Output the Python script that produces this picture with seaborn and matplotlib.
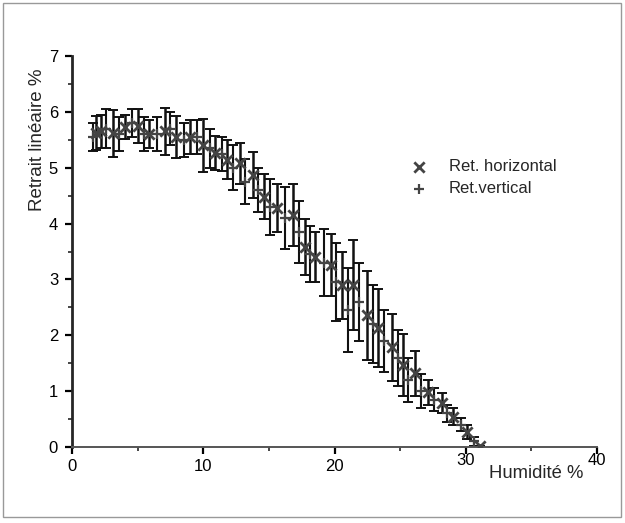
import matplotlib
matplotlib.use('Agg')
import matplotlib.pyplot as plt
import matplotlib.transforms as mtransforms
from matplotlib.patches import Rectangle
from matplotlib.ticker import MultipleLocator
import seaborn as sns
import pandas as pd

# --- Data ---
hum_h = [1.8, 2.2, 3.1, 4.0, 5.0, 5.9, 7.1, 7.9, 9.0, 10.0, 10.9, 11.8, 12.8, 13.8,
         14.6, 15.6, 16.8, 17.75, 18.5, 19.7, 20.6, 21.4, 22.5, 23.3, 24.4, 25.2,
         26.1, 27.1, 28.2, 29.0, 30.1, 31.1]
ret_h = [5.62, 5.65, 5.62, 5.73, 5.75, 5.6, 5.65, 5.55, 5.55, 5.4, 5.26, 5.14, 5.08,
         4.87, 4.48, 4.28, 4.15, 3.58, 3.4, 3.26, 2.9, 2.9, 2.36, 2.13, 1.79, 1.47,
         1.32, 0.98, 0.79, 0.54, 0.27, 0.02]
err_h = [0.3, 0.3, 0.42, 0.22, 0.3, 0.25, 0.42, 0.37, 0.3, 0.47, 0.3, 0.35, 0.37,
         0.42, 0.4, 0.43, 0.56, 0.5, 0.45, 0.55, 0.6, 0.8, 0.8, 0.7, 0.6, 0.55, 0.4,
         0.22, 0.18, 0.15, 0.12, 0.0]

hum_v = [1.6, 2.6, 3.6, 4.6, 5.5, 6.5, 7.5, 8.5, 9.5, 10.5, 11.4, 12.3, 13.2, 14.2,
         15.1, 16.2, 17.3, 18.1, 19.2, 20.1, 21.0, 21.9, 22.9, 23.8, 24.8, 25.6,
         26.6, 27.6, 28.6, 29.6, 30.6]
ret_v = [5.55, 5.7, 5.6, 5.8, 5.6, 5.6, 5.7, 5.5, 5.55, 5.35, 5.25, 5.0, 4.75, 4.6,
         4.3, 4.1, 3.85, 3.45, 3.3, 2.95, 2.45, 2.6, 2.2, 1.9, 1.6, 1.2, 1.0, 0.85,
         0.6, 0.4, 0.1]
err_v = [0.25, 0.35, 0.3, 0.25, 0.3, 0.3, 0.3, 0.3, 0.3, 0.35, 0.3, 0.4, 0.4, 0.4,
         0.5, 0.55, 0.55, 0.5, 0.6, 0.7, 0.75, 0.7, 0.7, 0.55, 0.5, 0.4, 0.3, 0.2,
         0.15, 0.12, 0.08]

df_h = pd.DataFrame({'hum': hum_h, 'ret': ret_h, 'err': err_h})
df_v = pd.DataFrame({'hum': hum_v, 'ret': ret_v, 'err': err_v})

sns.set_style('ticks')
plt.rcParams['font.family'] = ['Liberation Sans', 'DejaVu Sans']

fig = plt.figure(figsize=(6.25, 5.23), dpi=100)
ax = fig.add_axes([0.1152, 0.1453, 0.84, 0.7476])

# error bars
ax.errorbar(df_h['hum'], df_h['ret'], yerr=df_h['err'], fmt='none',
            ecolor='#111111', elinewidth=1.8, capsize=3.5, capthick=1.4)
ax.errorbar(df_v['hum'], df_v['ret'], yerr=df_v['err'], fmt='none',
            ecolor='#111111', elinewidth=1.5, capsize=3.5, capthick=1.4)

# markers
sns.scatterplot(data=df_h, x='hum', y='ret', marker='x', s=55, color='#444444',
                linewidth=2, ax=ax, label='Ret. horizontal', zorder=3)
sns.scatterplot(data=df_v, x='hum', y='ret', marker='+', s=55, color='#444444',
                linewidth=1.6, ax=ax, label='Ret.vertical', zorder=3)

ax.set_xlim(0, 40)
ax.set_ylim(0, 7)
ax.xaxis.set_major_locator(MultipleLocator(10))
ax.xaxis.set_minor_locator(MultipleLocator(5))
ax.yaxis.set_major_locator(MultipleLocator(1))
ax.yaxis.set_minor_locator(MultipleLocator(0.5))
ax.tick_params(axis='both', which='major', direction='out', length=5, width=1.6,
               labelsize=12, colors='black')
ax.tick_params(axis='both', which='minor', direction='out', length=3, width=1.2)
ax.tick_params(axis='y', pad=5)

for side in ['top', 'right']:
    ax.spines[side].set_visible(False)
ax.spines['left'].set_linewidth(2)
ax.spines['bottom'].set_linewidth(1.4)
ax.spines['bottom'].set_color('#555555')

ax.set_xlabel('')
ax.set_ylabel('')

# raise the 30 and 40 tick labels like in the original
fig.canvas.draw()
for lab in ax.get_xticklabels():
    if lab.get_text() in ('30', '40'):
        lab.set_transform(lab.get_transform() +
                          mtransforms.ScaledTranslation(0, 4 / 72, fig.dpi_scale_trans))

ax.text(0.795, -0.045, 'Humidité %', transform=ax.transAxes, fontsize=13.3,
        ha='left', va='top')
ax.text(-0.066, 0.785, 'Retrait linéaire %', transform=ax.transAxes, fontsize=13.5,
        rotation=90, ha='center', va='center')

leg = ax.legend(loc='upper left', bbox_to_anchor=(0.60, 0.775), frameon=False,
                fontsize=12, handletextpad=0.8, labelspacing=0.45, markerscale=1.0)

# thin frame around the whole picture
fig.patches.append(Rectangle((0.005, 0.012), 0.988, 0.982, transform=fig.transFigure,
                             fill=False, edgecolor='#999999', linewidth=1))

plt.savefig('out.png', dpi=100)
plt.close()
